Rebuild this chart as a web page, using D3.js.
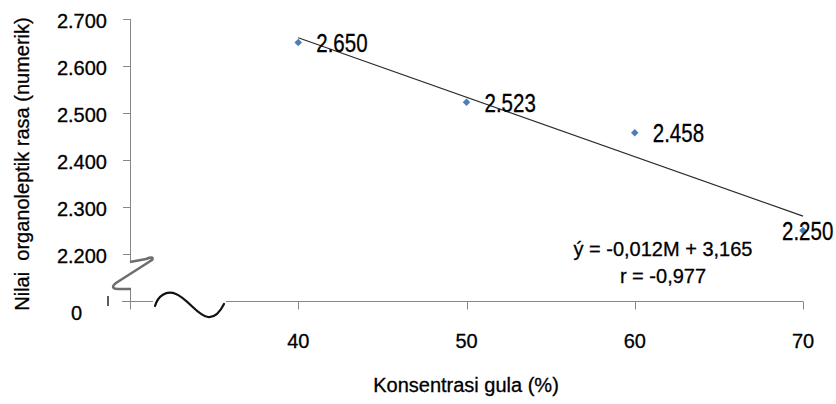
<!DOCTYPE html>
<html>
<head>
<meta charset="utf-8">
<script src="https://cdn.jsdelivr.net/npm/d3@7"></script>
<style>
  html, body { margin: 0; padding: 0; background: #fff; }
  svg { display: block; font-family: "Liberation Sans", Arial, sans-serif; }
  svg text { stroke: #000; stroke-width: 0.3px; }
</style>
</head>
<body>
<svg id="chart" width="836" height="404"></svg>
<script>
// ---- data ----
const concentrations = [40, 50, 60, 70];          // Konsentrasi gula (%)
const tasteScores = [2.650, 2.523, 2.458, 2.250];  // Nilai organoleptik rasa
const xTicks = [30, 40, 50, 60, 70];
const xTickLabels = ["", "40", "50", "60", "70"];
const yTicks = [2.1, 2.2, 2.3, 2.4, 2.5, 2.6, 2.7];
const yTickLabels = ["0", "2.200", "2.300", "2.400", "2.500", "2.600", "2.700"];
const equationLines = ["ý = -0,012M + 3,165", "r = -0,977"];
const xTitle = "Konsentrasi gula (%)";
const yTitle = "Nilai  organoleptik rasa (numerik)";

const svg = d3.select("#chart");
const axisColor = "#868686";

const x = d3.scaleLinear().domain([30, 70]).range([130, 803]);
const y = d3.scaleLinear().domain([2.1, 2.7]).range([301, 19]);

const g = svg.append("g");

// ---- Y axis line (with break) ----
g.append("line").attr("x1", 130.5).attr("x2", 130.5)
  .attr("y1", y(2.7)).attr("y2", 262).attr("stroke", axisColor);
g.append("line").attr("x1", 130.5).attr("x2", 130.5)
  .attr("y1", 290).attr("y2", y(2.1) + 8).attr("stroke", axisColor);

// y ticks
yTicks.forEach((t, i) => {
  const yy = Math.round(y(t)) + 0.5;
  g.append("line").attr("x1", i === 0 ? 122 : 123).attr("x2", 130.5)
    .attr("y1", yy).attr("y2", yy).attr("stroke", axisColor);
  const lbl = g.append("text").text(yTickLabels[i])
    .attr("font-size", 20).attr("fill", "#000").attr("text-anchor", "end");
  if (i === 0) {
    lbl.attr("x", 82).attr("y", y(t) + 19);
  } else {
    lbl.attr("x", 107).attr("y", y(t) + 9);
  }
});

// ---- X axis line (with break) ----
const xAxisY = Math.round(y(2.1)) + 0.5;
g.append("line").attr("x1", 122).attr("x2", 153)
  .attr("y1", xAxisY).attr("y2", xAxisY).attr("stroke", axisColor);
g.append("line").attr("x1", 226).attr("x2", x(70))
  .attr("y1", xAxisY).attr("y2", xAxisY).attr("stroke", axisColor);

xTicks.forEach((t, i) => {
  const xx = Math.round(x(t)) + 0.5;
  g.append("line").attr("x1", xx).attr("x2", xx)
    .attr("y1", xAxisY).attr("y2", xAxisY + 8).attr("stroke", axisColor);
  if (xTickLabels[i]) {
    g.append("text").text(xTickLabels[i])
      .attr("x", x(t)).attr("y", 348)
      .attr("font-size", 20).attr("text-anchor", "middle").attr("fill", "#000");
  }
});

// ---- axis break symbols ----
g.append("path")
  .attr("d", "M130,262 L146,259 C151,257 154,257 152,260 L116,283 C111,287 113,289 118,289 L131,289")
  .attr("fill", "none").attr("stroke", "#6e6e6e").attr("stroke-width", 2.6)
  .attr("stroke-linejoin", "round");
g.append("path")
  .attr("d", "M155,306 C158,296 166,290 176,294 C188,299 198,316 208,317 C216,318 221,310 224,304")
  .attr("fill", "none").attr("stroke", "#111").attr("stroke-width", 2.2)
  .attr("stroke-linecap", "round");
g.append("line").attr("x1", 108).attr("x2", 108).attr("y1", 296).attr("y2", 306)
  .attr("stroke", "#333").attr("stroke-width", 1.6);

// ---- linear trendline (least squares from data) ----
const mx = d3.mean(concentrations), my = d3.mean(tasteScores);
const slope = d3.sum(concentrations, (c, i) => (c - mx) * (tasteScores[i] - my)) /
              d3.sum(concentrations, c => (c - mx) * (c - mx));
const intercept = my - slope * mx;
const x0 = d3.min(concentrations), x1 = d3.max(concentrations);
g.append("line")
  .attr("x1", x(x0)).attr("y1", y(intercept + slope * x0))
  .attr("x2", x(x1)).attr("y2", y(intercept + slope * x1))
  .attr("stroke", "#2b2b2b").attr("stroke-width", 1.2);

// ---- points ----
g.selectAll("path.pt").data(concentrations).join("path")
  .attr("class", "pt")
  .attr("d", d3.symbol(d3.symbolDiamond2 || d3.symbolDiamond, 36))
  .attr("transform", (d, i) => `translate(${x(d)},${y(tasteScores[i])})`)
  .attr("fill", "#4a7ebb");

// ---- data labels ----
g.selectAll("text.dl").data(concentrations).join("text")
  .attr("class", "dl")
  .text((d, i) => d3.format(".3f")(tasteScores[i]))
  .attr("font-size", 25).attr("fill", "#000")
  .attr("transform", (d, i) => {
    const dx = i === concentrations.length - 1 ? -21 : 18;
    return `translate(${x(d) + dx},${y(tasteScores[i]) + 9.5}) scale(0.82,1)`;
  });

// ---- equation ----
equationLines.forEach((line, i) => {
  g.append("text").text(line)
    .attr("x", 663).attr("y", 256 + i * 27)
    .attr("font-size", 20).attr("text-anchor", "middle").attr("fill", "#000");
});

// ---- titles ----
g.append("text").text(xTitle)
  .attr("x", 466).attr("y", 392)
  .attr("font-size", 20).attr("text-anchor", "middle").attr("fill", "#000");
g.append("text").text(yTitle)
  .attr("transform", "translate(29,164) rotate(-90)")
  .attr("font-size", 20).attr("text-anchor", "middle").attr("fill", "#000")
  .style("white-space", "pre");
</script>
</body>
</html>
